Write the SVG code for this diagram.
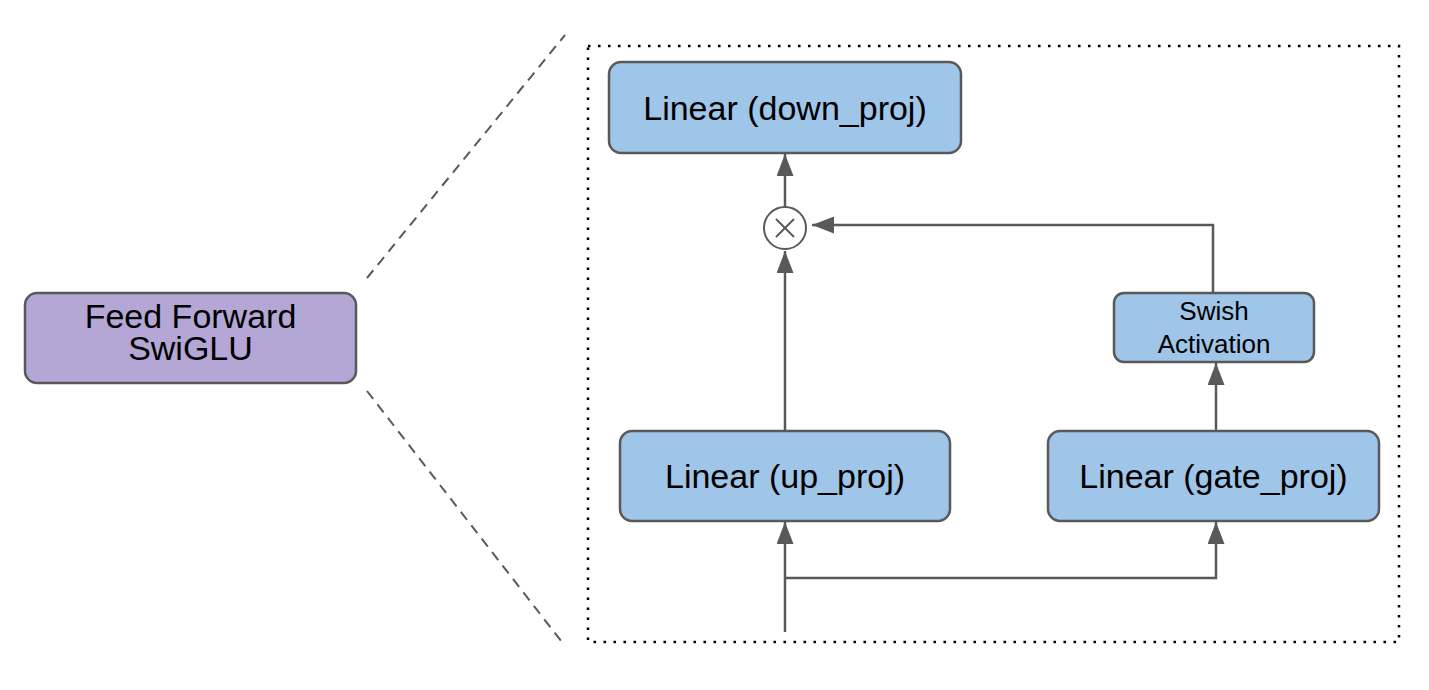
<svg xmlns="http://www.w3.org/2000/svg" width="1429" height="690" viewBox="0 0 1429 690">
<defs>
<style>
.node rect{stroke:#595959;stroke-width:2.5}
.blue{fill:#9fc5e8}
.purple{fill:#b4a7d6}
text{font-family:"Liberation Sans",Arial,sans-serif;fill:#000;text-anchor:middle}
.big{font-size:34px}
.small{font-size:26px}
.conn line,.conn polyline{stroke:#595959;stroke-width:2.5;fill:none}
.dash{stroke:#595959;stroke-width:2;stroke-dasharray:10 7;fill:none}
</style>
<marker id="ah" viewBox="0 0 22 17" refX="22" refY="8.5" markerWidth="22" markerHeight="17" markerUnits="userSpaceOnUse" orient="auto">
<path d="M0,0 L22,8.5 L0,17 Z" fill="#595959"/>
</marker>
</defs>
<rect x="0" y="0" width="1429" height="690" fill="#fff"/>

<g id="zoom-lines">
<line class="dash" x1="367" y1="278" x2="565" y2="35"/>
<line class="dash" x1="367" y1="391" x2="565" y2="646"/>
</g>

<g id="frame">
<rect x="588" y="46" width="811" height="596" fill="none" stroke="#000" stroke-width="2.5" stroke-dasharray="2.5 7.5"/>
</g>

<g id="feed-forward" class="node">
<rect class="purple" x="25" y="293" width="331" height="90" rx="12"/>
<text class="big" x="190.5" y="328"><tspan x="190.5">Feed Forward</tspan><tspan x="190.5" dy="32">SwiGLU</tspan></text>
</g>

<g id="down-proj" class="node">
<rect class="blue" x="609" y="62" width="352" height="91" rx="12"/>
<text class="big" x="785" y="120">Linear (down_proj)</text>
</g>

<g id="up-proj" class="node">
<rect class="blue" x="620" y="431" width="330" height="90" rx="12"/>
<text class="big" x="785" y="488">Linear (up_proj)</text>
</g>

<g id="gate-proj" class="node">
<rect class="blue" x="1048" y="431" width="331" height="90" rx="12"/>
<text class="big" x="1213.5" y="488">Linear (gate_proj)</text>
</g>

<g id="swish" class="node">
<rect class="blue" x="1114" y="293" width="200" height="69" rx="10"/>
<text class="small" x="1214" y="320"><tspan x="1214">Swish</tspan><tspan x="1214" dy="33">Activation</tspan></text>
</g>

<g id="multiply">
<circle cx="785" cy="228" r="21" fill="#fff" stroke="#595959" stroke-width="2"/>
<line x1="776" y1="219" x2="794" y2="237" stroke="#595959" stroke-width="2"/>
<line x1="794" y1="219" x2="776" y2="237" stroke="#595959" stroke-width="2"/>
</g>

<g id="connectors" class="conn">
<line x1="785" y1="207" x2="785" y2="154" marker-end="url(#ah)"/>
<line x1="785" y1="431" x2="785" y2="251" marker-end="url(#ah)"/>
<polyline points="1213,293 1213,225 812,225" marker-end="url(#ah)"/>
<line x1="1216" y1="431" x2="1216" y2="363" marker-end="url(#ah)"/>
<line x1="785" y1="632" x2="785" y2="522" marker-end="url(#ah)"/>
<polyline points="785,578 1216,578 1216,522" marker-end="url(#ah)"/>
</g>
</svg>
